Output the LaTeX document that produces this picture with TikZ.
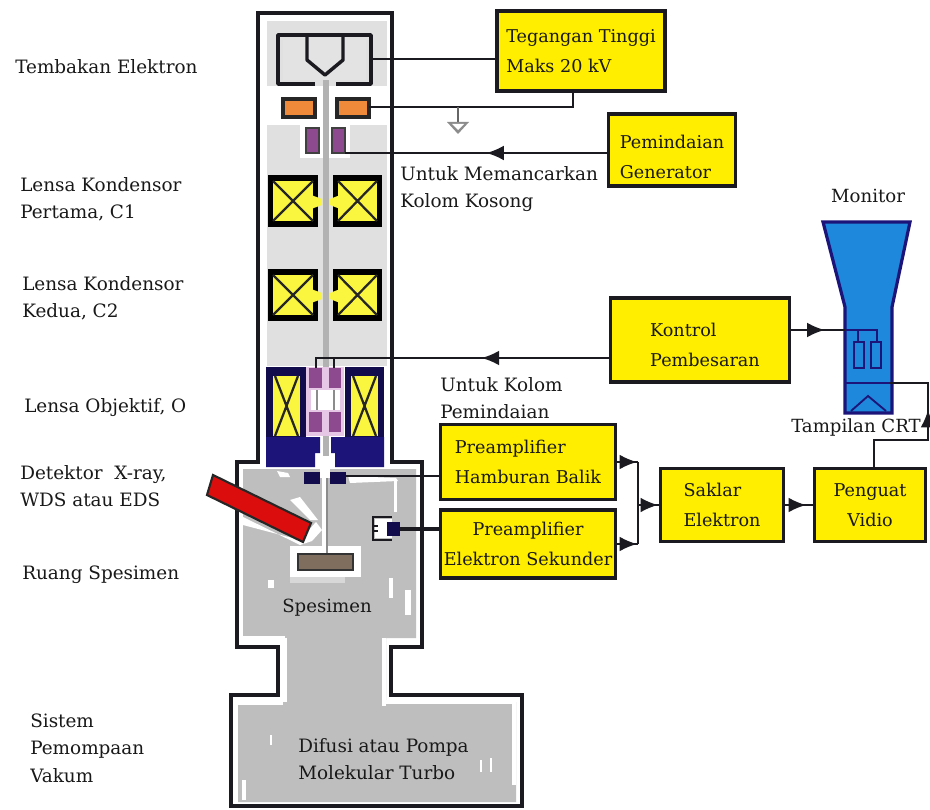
\documentclass[tikz,border=0pt]{standalone}
\usepackage{fontspec}
\setmainfont{DejaVu Serif}
\usetikzlibrary{arrows.meta,decorations.markings}
\definecolor{ybox}{HTML}{FFEE00}
\definecolor{ylens}{HTML}{FAF640}
\definecolor{navy}{HTML}{1C1478}
\definecolor{navyd}{HTML}{120C4C}
\definecolor{purp}{HTML}{8E4A8E}
\definecolor{pink}{HTML}{E6C8E6}
\definecolor{org}{HTML}{EE8A3A}
\definecolor{blue1}{HTML}{1E88DC}
\definecolor{chgrey}{HTML}{BEBEBE}
\definecolor{colgrey}{HTML}{E0E0E0}
\definecolor{linec}{HTML}{1A1A20}
\tikzset{
  x=0.75pt,y=-0.75pt,
  lab/.style={font=\fontsize{13.8}{20.5}\selectfont,text=black!90,inner sep=0pt,align=left,anchor=west},
  clab/.style={font=\fontsize{13.6}{20}\selectfont,text=black!90,inner sep=0pt,align=center},
  ybx/.style={draw=linec,line width=2.6pt,fill=ybox,minimum width=#1,inner sep=0pt,align=left,font=\fontsize{13.2}{22.5}\selectfont,text=black!90},
  wire/.style={draw=linec,line width=1.3pt},
  midarr/.style={postaction={decorate},decoration={markings,mark=at position #1 with {\arrow{Latex[length=13pt,width=11pt]}}}},
  outl/.style={draw=linec,line width=3.6pt},
  gunl/.style={draw=linec,line width=2.6pt,line join=round},
  xl/.style={draw=black!85,line width=1.7pt},
  purpb/.style={draw=black!75,line width=1.6pt,fill=purp},
  orgb/.style={draw=black!85,line width=2.4pt,fill=org},
}
\begin{document}
\begin{tikzpicture}
\useasboundingbox (0,0) rectangle (930,809);
\fill[white] (0,0) rectangle (930,809);

% column and chambers
\path[fill=white,outl,line join=miter]
 (258,13) -- (392,13) -- (392,462) -- (422,462) -- (422,647) -- (391,647) -- (391,695) -- (522,695) -- (522,806) -- (231,806) -- (231,695) -- (278,695) -- (278,647) -- (237,647) -- (237,462) -- (258,462) -- cycle;
\fill[colgrey] (267,21) rectangle (387,366);
\fill[white] (267,86) rectangle (387,125);
\fill[white] (300,125) rectangle (350,158);
\fill[chgrey] (243,469) -- (416,469) -- (416,638) -- (386,638) -- (386,702) -- (516,702) -- (516,802) -- (238,802) -- (238,702) -- (283,702) -- (283,638) -- (243,638) -- cycle;
% white flecks in the chambers
\fill[white] (277,471) -- (288,473) -- (290,477) -- (280,477) -- cycle;
\fill[white] (243,517) -- (300,545) -- (312,541) -- (322,530) -- (316,522) -- (300,540) -- (243,525) -- cycle;
\fill[white] (290,500) -- (300,497) -- (318,520) -- (310,520) -- cycle;
\fill[white] (348,476) -- (396,478) -- (398,481) -- (350,483) -- cycle;
\fill[white] (394,481) rectangle (397,512);
\fill[white] (290,546) rectangle (361,577);
\fill[chgrey!60!white] (290,577) rectangle (345,583);
\fill[white] (268,580) rectangle (274,588);
\fill[white] (389,578) rectangle (393,598);
\fill[white] (405,590) rectangle (411,615);
\fill[white] (243,636) rectangle (285,640);
\fill[white] (283,638) rectangle (287,702);
\fill[white] (382,638) rectangle (386,706);
\fill[white] (386,700) rectangle (516,704);
\fill[white] (283,700) rectangle (238,705);
\fill[white] (512,704) rectangle (516,785);
\fill[white] (242,800) rectangle (246,780);
\fill[white] (270,735) rectangle (272,745);
\fill[white] (480,760) rectangle (482,772);
\fill[white] (490,758) rectangle (492,772);

% beam
\fill[black!30] (323,72) rectangle (329,462);
\fill[white] (320,456) rectangle (330,478);
\fill[white] (322,478) rectangle (326,553);
\fill[black!45] (326,478) rectangle (328,553);

% gun
\fill[colgrey!90!white] (283,40) rectangle (366,80);
\draw[gunl] (315,84) -- (278,84) -- (278,35) -- (371,35) -- (371,84) -- (336,84);
\draw[gunl] (307,36) -- (307,60) -- (325,75) -- (343,60) -- (343,36);
\coordinate (gunR) at (371,59);

% anode
\path[orgb] (283,99) rectangle (315,117);
\path[orgb] (337,99) rectangle (369,117);
\coordinate (anR) at (369,107);
% upper scan coils
\path[purpb] (306,128) rectangle (319,153);
\path[purpb] (332,128) rectangle (345,153);
\coordinate (scanR) at (345,153);

% condenser lenses
\foreach \y in {175,269}{
  \fill[black] (268,\y) rectangle (318,\y+52);
  \fill[black] (333,\y) rectangle (382,\y+52);
  \fill[ylens] (273,\y+6) rectangle (313,\y+46);
  \fill[ylens] (338,\y+6) rectangle (377,\y+46);
  \fill[ylens] (311,\y+20) -- (322,\y+24) -- (322,\y+30) -- (311,\y+34) -- cycle;
  \fill[ylens] (340,\y+20) -- (330,\y+24) -- (330,\y+30) -- (340,\y+34) -- cycle;
  \draw[xl] (273,\y+6) -- (313,\y+46) (313,\y+6) -- (273,\y+46);
  \draw[xl] (338,\y+6) -- (377,\y+46) (377,\y+6) -- (338,\y+46);
}

% objective lens
\fill[pink] (306,367) rectangle (344,436);
\fill[white] (311,390) rectangle (340,410);
\fill[navyd] (266,367) rectangle (306,438);
\fill[navyd] (345,367) rectangle (384,438);
\fill[navy] (266,437) -- (320,437) -- (320,453) -- (315,453) -- (315,467) -- (266,467) -- cycle;
\fill[navy] (384,437) -- (331,437) -- (331,453) -- (335,453) -- (335,467) -- (384,467) -- cycle;
\fill[ylens] (273,376) rectangle (300,436);
\fill[ylens] (351,376) rectangle (378,436);
\draw[xl] (275,376) -- (298,436) (298,376) -- (275,436);
\draw[xl] (353,376) -- (376,436) (376,376) -- (353,436);
\draw[black!45,line width=1.2pt] (317,390) -- (317,410) (334,390) -- (334,410);
\foreach \yy in {368,412}{
  \path[fill=purp] (309,\yy) rectangle (322,\yy+20);
  \path[fill=purp] (329,\yy) rectangle (341,\yy+20);
}
% small navy blocks
\fill[navyd] (304,472) rectangle (320,484);
\fill[navyd] (330,472) rectangle (346,484);

% x-ray detector
\path[fill=red!85!black!95,draw=black!85,line width=1.6pt] (213,475) -- (311,523) -- (303,542) -- (207,495) -- cycle;

% SE detector
\fill[white] (375,519) rectangle (392,538);
\draw[draw=linec,line width=2.2pt] (392,517) -- (373,517) -- (373,540) -- (392,540);
\fill[navyd] (387,522) rectangle (400,536);
\draw[linec,line width=1.6pt] (373,526) -- (378,526) (373,531) -- (378,531);
% specimen
\path[fill=black!62!brown!70,draw=black!80,line width=1pt] (298,554) rectangle (353,570);

% yellow boxes
\node[ybx=126pt,minimum height=60pt] (hv) at (581,51) {Tegangan Tinggi\\Maks 20 kV};
\node[ybx=95pt,minimum height=54pt] (gen) at (672,150) {\rule{0pt}{20.5pt}Pemindaian\\Generator};
\node[ybx=134pt,minimum height=63pt] (kontrol) at (700,340) {\rule{0pt}{17.5pt}\hspace*{7.5pt}Kontrol\\\hspace*{7.5pt}Pembesaran};
\node[ybx=131pt,minimum height=56pt] (hb) at (528,462) {Preamplifier\\Hamburan Balik};
\node[ybx=131pt,minimum height=51pt,align=center] (se) at (528,544) {Preamplifier\\Elektron Sekunder};
\node[ybx=92pt,minimum height=55pt] (sak) at (722,505) {Saklar\\Elektron};
\node[ybx=83pt,minimum height=55pt,align=center] (pen) at (870,505) {Penguat\\Vidio};

% monitor
\path[fill=blue1,draw=navy,line width=2.4pt] (823,222) -- (910,222) -- (892,307) -- (892,413) -- (845,413) -- (845,307) -- cycle;
\draw[navy,line width=1.4pt] (854,342) rectangle (864,368);
\draw[navy,line width=1.4pt] (871,342) rectangle (881,368);
\draw[navy,line width=1.4pt] (851,411) -- (868,396) -- (886,411);
\coordinate (crtIn) at (845,330);
\coordinate (crtB) at (890,383);
\draw[navy,line width=1.6pt] (845,383) -- (892,383);
\draw[navy,line width=1pt] (845,330) -- (877,330) -- (877,342) (858,330) -- (858,342);

% connectors
\draw[wire] (gunR) -- (hv.west |- gunR);
\coordinate (hvdrop) at (573,107);
\draw[wire] (anR) -- (hvdrop) -- (hvdrop |- hv.south);
\coordinate (gndt) at (458,107);
\coordinate (gndb) at (458,122);
\draw[wire,black!60] (gndt) -- (gndb);
\fill[black!45] (447,122) -- (469,122) -- (458,134) -- cycle;
\fill[white] (452,124) -- (464,124) -- (458,130) -- cycle;
\draw[wire,midarr=0.46] (gen.west |- scanR) -- (scanR);
\coordinate (objT) at (316,358);
\draw[wire,midarr=0.42] (kontrol.west |- objT) -- (objT) -- (316,368);
\draw[wire] (334,358) -- (334,368);
\draw[wire,midarr=0.62] (kontrol.east |- crtIn) -- (crtIn);
\coordinate (rt) at (638,462);
\coordinate (rb) at (638,544);
\draw[wire,midarr=0.95] (hb.east) -- (rt);
\draw[wire,midarr=0.95] (se.east) -- (rb);
\draw[wire] (rt) -- (rb);
\coordinate (rm) at (638,505);
\draw[wire,midarr=0.95] (rm) -- (sak.west);
\draw[wire,midarr=0.75] (sak.east) -- (pen.west);
\coordinate (penT) at (874,440);
\coordinate (pr) at (928,440);
\coordinate (prt) at (928,383);
\draw[wire,midarr=0.63] (pen.north -| penT) -- (penT) -- (pr) -- (prt) -- (crtB);
\draw[wire,line width=1.6pt] (hb.west |- 0,476) -- (346,476);
\draw[wire,line width=2.6pt] (400,529) -- (se.west |- 0,529);

% texts
\node[lab] (t1) at (15,67) {Tembakan Elektron};
\node[lab] (t2) at (20,199) {Lensa Kondensor\\Pertama, C1};
\node[lab] (t3) at (22,298) {Lensa Kondensor\\Kedua, C2};
\node[lab] (t4) at (24,408) {Lensa Objektif, O};
\node[lab] (t5) at (20,486) {Detektor\ \ X-ray,\\WDS atau EDS};
\node[lab] (t6) at (22,575) {Ruang Spesimen};
\node[lab] (t7) at (30,748) {Sistem\\Pemompaan\\Vakum};
\node[lab] (t8) at (400,189) {Untuk Memancarkan\\Kolom Kosong};
\node[lab] (t9) at (440,398) {Untuk Kolom\\Pemindaian};
\node[clab] (t10) at (868,196) {Monitor};
\node[clab] (t11) at (856,427) {Tampilan CRT};
\node[clab] (t12) at (327,608) {Spesimen};
\node[lab] (t13) at (298,759) {Difusi atau Pompa\\Molekular Turbo};
\end{tikzpicture}
\end{document}
